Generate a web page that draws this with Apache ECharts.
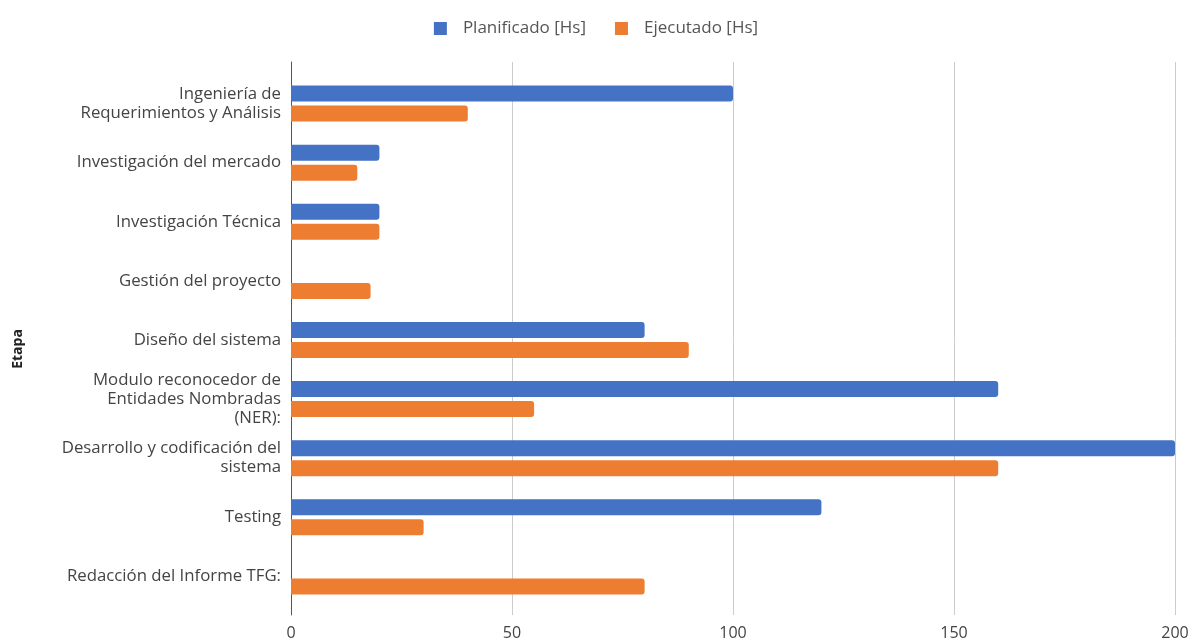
<!DOCTYPE html>
<html>
<head>
<meta charset="utf-8">
<script src="https://cdn.jsdelivr.net/npm/echarts@6/dist/echarts.min.js"></script>
<style>
  html, body { margin: 0; padding: 0; background: #fff; }
  #chart { width: 1192px; height: 644px; }
</style>
</head>
<body>
<div id="chart"></div>
<script>
// Etapas del proyecto (de arriba hacia abajo)
const etapas = [
  'Ingeniería de\nRequerimientos y Análisis',
  'Investigación del mercado',
  'Investigación Técnica',
  'Gestión del proyecto',
  'Diseño del sistema',
  'Modulo reconocedor de\nEntidades Nombradas\n(NER):',
  'Desarrollo y codificación del\nsistema',
  'Testing',
  'Redacción del Informe TFG:'
];
// Horas planificadas y ejecutadas por etapa
const planificado = [100, 20, 20, 0, 80, 160, 200, 120, 0];
const ejecutado = [40, 15, 20, 18, 90, 55, 160, 30, 80];
// Marcas del eje horizontal
const ticksX = [0, 50, 100, 150, 200];

const font = "'Open Sans', 'Noto Sans', sans-serif";
const xMin = ticksX[0], xMax = ticksX[ticksX.length - 1], xStep = ticksX[1] - ticksX[0];

const chart = echarts.init(document.getElementById('chart'));
chart.setOption({
  animation: false,
  textStyle: { fontFamily: font },
  legend: {
    top: 15,
    left: 'center',
    itemWidth: 13,
    itemHeight: 13,
    itemGap: 29,
    icon: 'rect',
    textStyle: { fontSize: 17, color: '#555', padding: [0, 0, 0, 11], fontFamily: font },
    data: ['Planificado [Hs]', 'Ejecutado [Hs]']
  },
  grid: [
    // cuadrícula de fondo: líneas guía y eje de valores
    { left: 291, right: 17, top: 62, bottom: 29 },
    // área de las barras
    { left: 291, right: 17, top: 74, bottom: 38 }
  ],
  xAxis: [
    {
      gridIndex: 0, type: 'value', min: xMin, max: xMax, interval: xStep,
      axisLine: { show: false }, axisTick: { show: false },
      axisLabel: { fontSize: 16, color: '#444', margin: 10, fontFamily: font },
      splitLine: { show: true, lineStyle: { color: '#cccccc', width: 1 } }
    },
    {
      gridIndex: 1, type: 'value', min: xMin, max: xMax, interval: xStep,
      show: false
    }
  ],
  yAxis: [
    {
      gridIndex: 0, type: 'value', min: 0, max: 1,
      axisLine: { show: true, onZero: false, lineStyle: { color: '#555', width: 1 } },
      axisTick: { show: false }, axisLabel: { show: false }, splitLine: { show: false }
    },
    {
      gridIndex: 1, type: 'category', data: etapas, inverse: true,
      axisLine: { show: false }, axisTick: { show: false },
      axisLabel: { fontSize: 16.8, color: '#444', margin: 10, lineHeight: 19, align: 'right', fontFamily: font },
      splitLine: { show: false }
    }
  ],
  graphic: [
    {
      type: 'text',
      x: 18, y: 349,
      rotation: Math.PI / 2,
      style: { text: 'Etapa', font: "bold 14px 'Open Sans', sans-serif", fill: '#222', textAlign: 'center', textVerticalAlign: 'middle' }
    }
  ],
  series: [
    {
      name: 'Planificado [Hs]', type: 'bar', xAxisIndex: 1, yAxisIndex: 1,
      data: planificado, barWidth: 16, barGap: '25%',
      itemStyle: { color: '#4472C4', borderRadius: [0, 3, 3, 0] }
    },
    {
      name: 'Ejecutado [Hs]', type: 'bar', xAxisIndex: 1, yAxisIndex: 1,
      data: ejecutado, barWidth: 16, barGap: '25%',
      itemStyle: { color: '#ED7D31', borderRadius: [0, 3, 3, 0] }
    }
  ]
});
</script>
</body>
</html>
